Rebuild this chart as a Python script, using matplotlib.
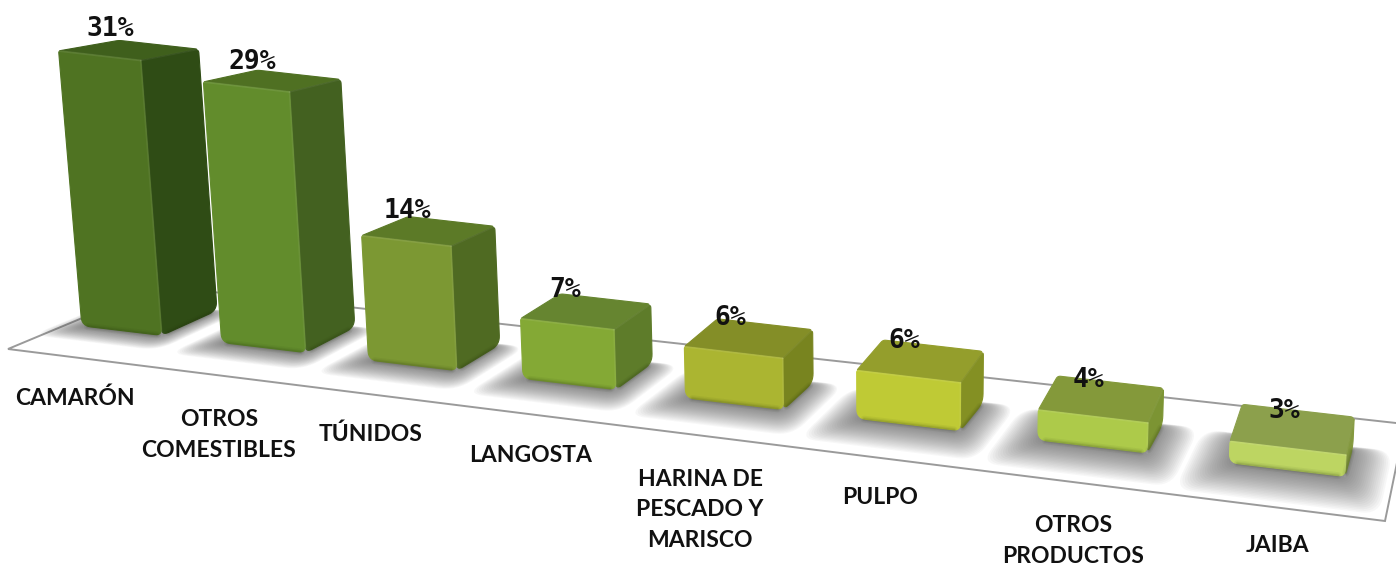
import numpy as np
import matplotlib
matplotlib.use("Agg")
import matplotlib.pyplot as plt
from matplotlib.patches import Polygon

# -----------------------------
# Data
# -----------------------------
categories = ["CAMARÓN", "OTROS\nCOMESTIBLES", "TÚNIDOS", "LANGOSTA",
              "HARINA DE\nPESCADO Y\nMARISCO", "PULPO", "OTROS\nPRODUCTOS", "JAIBA"]
# shares, the labels show them rounded
values = [30.55, 29.45, 14.3, 7.0, 6.1, 5.8, 3.7, 2.7]

front_colors = ["#4f7322", "#628c2c", "#7c9833", "#84a935", "#abb531", "#bfca35", "#adca4a", "#bdd562"]
side_colors = ["#2f4c15", "#436120", "#4f6a22", "#5e7c2a", "#78841f", "#849023", "#7c9433", "#84993f"]
top_colors = ["#3f5f1c", "#4f7022", "#5c7a27", "#668530", "#848e27", "#949e2c", "#84993a", "#8ca04c"]

label_x = [75, 219, 371, 531, 700, 880, 1073, 1277]
label_y = [398, 435, 434, 456, 510, 497, 541, 545]

# -----------------------------
# Floor perspective (unit square -> pixels)
# -----------------------------
FLOOR = np.array([[8, 349], [1385, 521], [1405, 424], [159, 286]], dtype=float)
VANISH = np.array([900.0, 10000.0])  # vertical lines meet down here

BAR_STEP = 0.1263
BAR_START = 0.0133
BAR_W = 0.073
V0 = 0.37


def floor_matrix(q):
    A, b = [], []
    for (x, y), (u, v) in zip(q, [(0, 0), (1, 0), (1, 1), (0, 1)]):
        A.append([u, v, 1, 0, 0, 0, -u * x, -v * x])
        A.append([0, 0, 0, u, v, 1, -u * y, -v * y])
        b += [x, y]
    h = np.linalg.solve(np.array(A, dtype=float), np.array(b, dtype=float))
    return np.append(h, 1.0).reshape(3, 3)


H = floor_matrix(FLOOR)


def project(u, v, height=0.0):
    """Floor point (u, v), raised by height pixels towards the top."""
    x, y, w = H @ np.array([u, v, 1.0])
    p = np.array([x / w, y / w])
    k = height / (VANISH[1] - p[1])
    return p + (p - VANISH) * k


def px_per_pct(i):
    return 9.0 - 0.15 * i


def back_v(i):
    return 0.76 - 0.012 * i


# -----------------------------
# Drawing helpers
# -----------------------------
def rounded(pts, radii):
    """Replace each polygon corner with a small quadratic curve."""
    pts = [np.asarray(p, dtype=float) for p in pts]
    out = []
    n = len(pts)
    for j in range(n):
        p, a, b = pts[j], pts[j - 1], pts[(j + 1) % n]
        r = radii[j]
        if r <= 0:
            out.append(p)
            continue
        da = (a - p) / np.linalg.norm(a - p)
        db = (b - p) / np.linalg.norm(b - p)
        s, e = p + da * r, p + db * r
        for t in np.linspace(0, 1, 8):
            out.append((1 - t) ** 2 * s + 2 * t * (1 - t) * p + t ** 2 * e)
    return np.array(out)


def face(ax, pts, radii, color, z):
    ax.add_patch(Polygon(rounded(pts, radii), closed=True, facecolor=color, edgecolor=color,
                         lw=0.8, joinstyle="round", zorder=z))


def edge(ax, p, q, color, lw, alpha, z):
    ax.plot([p[0], q[0]], [p[1], q[1]], color=color, lw=lw, alpha=alpha,
            solid_capstyle="round", zorder=z)


def shadow(ax, i, u0, u1, z):
    # soft shadow: stacked transparent quads on the floor
    front = 0.16 + 0.02 * i
    side = 0.020 + 0.0008 * i
    for t in np.linspace(1, 0, 22):
        du = side * t
        dv0 = 0.02 + front * t
        v_back = back_v(i) - 0.02 + 0.03 * t
        pts = [project(u0 - du, V0 - dv0), project(u1 + du, V0 - dv0),
               project(u1 + du, v_back), project(u0 - du, v_back)]
        ax.add_patch(Polygon(rounded(pts, [10 + 8 * t] * 4), closed=True, facecolor="#4a4a4a",
                             edgecolor="none", alpha=0.04, zorder=z))


def draw_bar(ax, i, val):
    u0 = BAR_START + i * BAR_STEP
    u1 = u0 + BAR_W
    v1 = back_v(i)
    h = val * px_per_pct(i)
    # back corners: shorter on the tall bars, the flat ones show more of their top
    hb = h * 0.95 + max(0, i - 2) * 2

    bl, br = project(u0, V0), project(u1, V0)
    bbr = project(u1, v1)
    tl, tr = project(u0, V0, h), project(u1, V0, h)
    tbr, tbl = project(u1, v1, hb), project(u0, v1, hb)

    z = 3 + i * 0.1
    shadow(ax, i, u0, u1, 2)
    face(ax, [tl, tr, tbr, tbl], [2, 1, 4, 3], top_colors[i], z)
    face(ax, [br, bbr, tbr, tr], [7, 9, 4, 0], side_colors[i], z)
    face(ax, [bl, br, tr, tl], [9, 7, 0, 2], front_colors[i], z)

    # darker rounded bottom and soft bevels
    for lw, a in [(5, 0.05), (3, 0.07), (1.5, 0.10)]:
        edge(ax, bl + (br - bl) * 0.07, br + (bl - br) * 0.06, "#1c2a08", lw, a, z + 0.01)
        edge(ax, br + (bbr - br) * 0.12, bbr + (br - bbr) * 0.12, "#1c2a08", lw, a, z + 0.01)
    edge(ax, tl, tr, "white", 1.4, 0.08, z + 0.02)
    edge(ax, tr, tbr, "white", 1.2, 0.05, z + 0.02)
    edge(ax, tr, br, "white", 1.4, 0.06, z + 0.02)
    return tbl


# -----------------------------
# Figure
# -----------------------------
fig = plt.figure(figsize=(13.96, 5.65), dpi=100)
ax = fig.add_axes([0, 0, 1, 1])
ax.set_xlim(0, 1396)
ax.set_ylim(565, 0)
ax.axis("off")

ax.add_patch(Polygon(FLOOR, closed=True, facecolor="white", edgecolor="#9a9a9a",
                     lw=1.4, zorder=1))

for i, val in enumerate(values):
    tbl = draw_bar(ax, i, val)
    # value label sits near the back left corner of the top
    ax.text(tbl[0] - 9 + 2.8 * i + 0.65 * i ** 2, tbl[1] - 11 + 2.5 * i, f"{val:.0f}%",
            ha="center", va="center", fontsize=19, fontweight="bold",
            family="DejaVu Sans Mono", color="#111111", zorder=10)

for name, lx, ly in zip(categories, label_x, label_y):
    ax.text(lx, ly, name, ha="center", va="center", fontsize=16.5, fontweight="bold",
            family="Lato", color="#111111", linespacing=1.55, zorder=10)

fig.savefig("out.png", dpi=100)
